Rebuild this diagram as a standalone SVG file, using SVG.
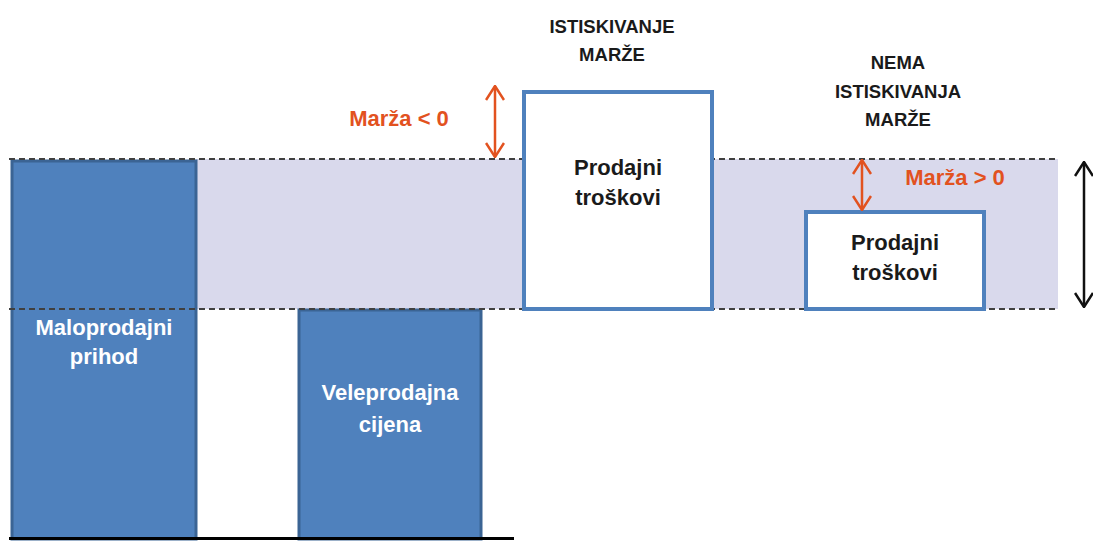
<svg xmlns="http://www.w3.org/2000/svg" width="1093" height="541" viewBox="0 0 1093 541">
<defs>
<style>
.bar{fill:#4f81bd;stroke:#3b6494;stroke-width:3}
.box{fill:#fff;stroke:#4f81bd;stroke-width:4}
.dash{stroke:#404040;stroke-width:2;stroke-dasharray:6 4;fill:none}
.t{font-family:"Liberation Sans",Arial,sans-serif;font-weight:bold;text-anchor:middle}
.w{fill:#fff;font-size:22px}
.k{fill:#1a1a1a;font-size:22px}
.h{fill:#1a1a1a;font-size:18.5px}
.o{fill:#e2521f;font-size:22px}
.ao{stroke:#e2521f;stroke-width:2.5;fill:none}
.ak{stroke:#111;stroke-width:2.5;fill:none}
</style>
<marker id="mo" viewBox="0 0 16 20" refX="15" refY="10" markerWidth="16" markerHeight="20" markerUnits="userSpaceOnUse" orient="auto-start-reverse">
<path d="M1,1 L15,10 L1,19" fill="none" stroke="#e2521f" stroke-width="2.5"/>
</marker>
<marker id="mk" viewBox="0 0 16 20" refX="15" refY="10" markerWidth="16" markerHeight="20" markerUnits="userSpaceOnUse" orient="auto-start-reverse">
<path d="M1,1 L15,10 L1,19" fill="none" stroke="#111" stroke-width="2.5"/>
</marker>
</defs>
<rect width="1093" height="541" fill="#fff"/>
<rect id="band" x="190" y="159" width="868" height="150" fill="#d9d9ec"/>
<g id="maloprodajni">
<rect class="bar" x="12" y="161" width="184" height="378"/>
<text class="t w" x="104" y="335">Maloprodajni</text>
<text class="t w" x="104" y="364">prihod</text>
</g>
<g id="veleprodajna">
<rect class="bar" x="299" y="310" width="182" height="229"/>
<text class="t w" x="390" y="400">Veleprodajna</text>
<text class="t w" x="390" y="432">cijena</text>
</g>
<g id="lines">
<line class="dash" x1="9" y1="159" x2="1058" y2="159"/>
<line class="dash" x1="9" y1="309" x2="1058" y2="309"/>
<line x1="9" y1="538.5" x2="514" y2="538.5" stroke="#000" stroke-width="3"/>
</g>
<g id="prodajni1">
<rect class="box" x="524" y="92" width="188" height="217"/>
<text class="t k" x="618" y="175">Prodajni</text>
<text class="t k" x="618" y="205">troškovi</text>
</g>
<g id="prodajni2">
<rect class="box" x="806" y="212" width="178" height="97"/>
<text class="t k" x="895" y="250">Prodajni</text>
<text class="t k" x="895" y="280">troškovi</text>
</g>
<g id="labels">
<text class="t h" x="612" y="33">ISTISKIVANJE</text>
<text class="t h" x="612" y="61">MARŽE</text>
<text class="t h" x="898" y="69">NEMA</text>
<text class="t h" x="898" y="98">ISTISKIVANJA</text>
<text class="t h" x="898" y="126">MARŽE</text>
<text class="t o" x="399" y="126">Marža &lt; 0</text>
<text class="t o" x="955" y="185">Marža &gt; 0</text>
</g>
<g id="connectors">
<line class="ao" x1="495" y1="86" x2="495" y2="157" marker-start="url(#mo)" marker-end="url(#mo)"/>
<line class="ao" x1="862" y1="160" x2="862" y2="210" marker-start="url(#mo)" marker-end="url(#mo)"/>
<line class="ak" x1="1084" y1="162" x2="1084" y2="307" marker-start="url(#mk)" marker-end="url(#mk)"/>
</g>
</svg>
